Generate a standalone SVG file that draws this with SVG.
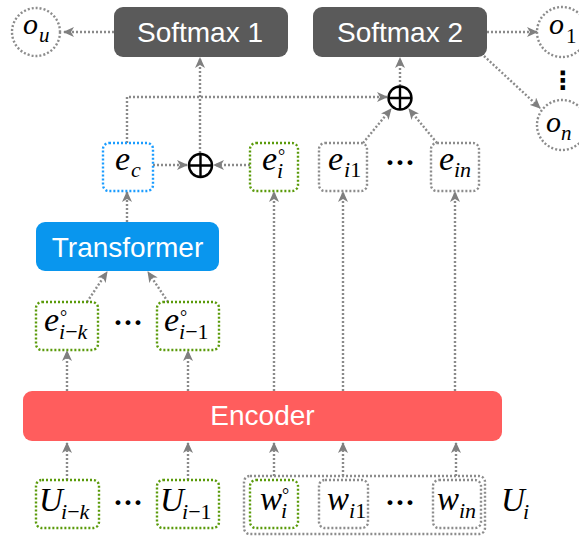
<svg xmlns="http://www.w3.org/2000/svg" width="579" height="536" viewBox="0 0 579 536">
<defs>
<marker id="ah" markerUnits="userSpaceOnUse" markerWidth="11" markerHeight="10" viewBox="0 0 11 10" refX="10" refY="5" orient="auto">
<path d="M0,0 L11,5 L0,10 L3,5 z" fill="#7f7f7f"/>
</marker>
<style>
.blk{rx:9px}
.lbl{font-family:"Liberation Sans",Arial,sans-serif;font-size:28px;fill:#fff;text-anchor:middle}
.m{font-family:"Liberation Serif","Times New Roman",serif;font-style:italic;font-size:34px;fill:#000}
.u{font-size:33px}
.s{font-size:22px}
.deg{font-style:normal;font-size:18px}
.dots{font-family:"Liberation Serif","Times New Roman",serif;font-size:30px;font-weight:bold;fill:#000;text-anchor:middle}
.box{fill:none;stroke-width:2.4;stroke-dasharray:2 2;rx:6px}
.g{stroke:#5a9a0a}
.gr{stroke:#8c8c8c}
.bl{stroke:#1a9cff}
.circ{fill:none;stroke:#8c8c8c;stroke-width:2.4;stroke-dasharray:2 2}
.c{fill:none;stroke:#8a8a8a;stroke-width:2.4;stroke-dasharray:2 2;marker-end:url(#ah)}
.op{fill:none;stroke:#000;stroke-width:2.4}
</style>
</defs>

<g id="connectors">
<path class="c" d="M114,32 L64,32"/>
<path class="c" d="M487,32 L537,32"/>
<path class="c" d="M484,56 L540,108"/>
<path class="c" d="M200,153 L200,58"/>
<path class="c" d="M400,86 L400,58"/>
<path class="c" d="M127,143 L127,97 L387,97"/>
<path class="c" d="M153,165 L187,165"/>
<path class="c" d="M250,165 L214,165"/>
<path class="c" d="M363,143 L391,109"/>
<path class="c" d="M437,143 L409,109"/>
<path class="c" d="M127,222 L127,192"/>
<path class="c" d="M87,302 L107,272"/>
<path class="c" d="M168,302 L148,272"/>
<path class="c" d="M67,391 L67,351"/>
<path class="c" d="M188,391 L188,351"/>
<path class="c" d="M274,391 L274,192"/>
<path class="c" d="M343,391 L343,192"/>
<path class="c" d="M455,391 L455,192"/>
<path class="c" d="M67,480 L67,443"/>
<path class="c" d="M188,480 L188,443"/>
<path class="c" d="M274,476 L274,443"/>
<path class="c" d="M343,476 L343,443"/>
<path class="c" d="M456,476 L456,443"/>
</g>

<g id="softmax1">
<rect class="blk" x="114" y="7" width="174" height="50" fill="#5a5a5a"/>
<text class="lbl" x="200" y="42">Softmax 1</text>
</g>
<g id="softmax2">
<rect class="blk" x="313" y="7" width="174" height="50" fill="#5a5a5a"/>
<text class="lbl" x="400" y="42">Softmax 2</text>
</g>

<g id="ou">
<circle class="circ" cx="36" cy="32" r="24"/>
<text class="m"><tspan x="23" y="34" font-size="30px">o</tspan><tspan x="39" y="42" font-size="21px">u</tspan></text>
</g>
<g id="o1">
<circle class="circ" cx="562" cy="32" r="25"/>
<text class="m"><tspan x="549" y="34" font-size="30px">o</tspan><tspan x="566" y="43" font-size="21px" font-style="normal">1</tspan></text>
</g>
<g id="vdots">
<text x="563" y="89" font-family="DejaVu Sans,sans-serif" font-size="25" font-weight="bold" text-anchor="middle" fill="#000">⋮</text>
</g>
<g id="on">
<circle class="circ" cx="562" cy="125" r="25"/>
<text class="m"><tspan x="546" y="132" font-size="30px">o</tspan><tspan x="561" y="140" font-size="21px">n</tspan></text>
</g>

<g id="oplus1">
<circle class="op" cx="200.5" cy="165.5" r="11.5"/>
<path class="op" d="M189,165.5 H212 M200.5,154 V177"/>
</g>
<g id="oplus2">
<circle class="op" cx="400" cy="98" r="11.5"/>
<path class="op" d="M388.5,98 H411.5 M400,86.5 V109.5"/>
</g>

<g id="ec">
<rect class="box bl" x="103" y="143" width="50" height="48"/>
<text class="m"><tspan x="115" y="170">e</tspan><tspan class="s" x="131" y="177">c</tspan></text>
</g>
<g id="ei0">
<rect class="box g" x="250" y="143" width="48" height="48"/>
<text class="m"><tspan x="262" y="170">e</tspan><tspan class="s" x="277" y="178">i</tspan><tspan class="deg" x="278" y="162">°</tspan></text>
</g>
<g id="ei1">
<rect class="box gr" x="319" y="143" width="48" height="48"/>
<text class="m"><tspan x="328" y="170">e</tspan><tspan class="s" x="344" y="177">i<tspan font-style="normal">1</tspan></tspan></text>
</g>
<text class="dots" x="400" y="172">···</text>
<g id="ein">
<rect class="box gr" x="431" y="143" width="48" height="48"/>
<text class="m"><tspan x="439" y="170">e</tspan><tspan class="s" x="454" y="177">in</tspan></text>
</g>

<g id="transformer">
<rect class="blk" x="36" y="222" width="183" height="49" fill="#0996ee"/>
<text class="lbl" x="127.5" y="257">Transformer</text>
</g>

<g id="eik">
<rect class="box g" x="36" y="302" width="62" height="48"/>
<text class="m"><tspan x="44" y="331">e</tspan><tspan class="s" x="59" y="339">i<tspan font-style="normal">−</tspan>k</tspan><tspan class="deg" x="60" y="323">°</tspan></text>
</g>
<text class="dots" x="128" y="332">···</text>
<g id="ei_1">
<rect class="box g" x="157" y="302" width="62" height="48"/>
<text class="m"><tspan x="164" y="331">e</tspan><tspan class="s" x="179" y="339">i<tspan font-style="normal">−1</tspan></tspan><tspan class="deg" x="180" y="323">°</tspan></text>
</g>

<g id="encoder">
<rect class="blk" x="23" y="391" width="479" height="50" fill="#ff5d5d"/>
<text class="lbl" x="262.5" y="425">Encoder</text>
</g>

<g id="uik">
<rect class="box g" x="36" y="480" width="63" height="48"/>
<text class="m u"><tspan x="39" y="511">U</tspan><tspan class="s" x="61" y="519">i<tspan font-style="normal">−</tspan>k</tspan></text>
</g>
<text class="dots" x="128" y="512">···</text>
<g id="ui_1">
<rect class="box g" x="157" y="480" width="62" height="48"/>
<text class="m u"><tspan x="160" y="511">U</tspan><tspan class="s" x="182" y="519">i<tspan font-style="normal">−1</tspan></tspan></text>
</g>

<g id="ui">
<rect class="box gr" x="244" y="476" width="241" height="58"/>
<text class="m u"><tspan x="501" y="511">U</tspan><tspan class="s" x="523" y="519">i</tspan></text>
</g>
<g id="wi0">
<rect class="box g" x="250" y="480" width="48" height="48"/>
<text class="m u"><tspan x="260" y="510">w</tspan><tspan class="s" x="281" y="518">i</tspan><tspan class="deg" x="282" y="501">°</tspan></text>
</g>
<g id="wi1">
<rect class="box gr" x="319" y="480" width="49" height="48"/>
<text class="m u"><tspan x="327" y="510">w</tspan><tspan class="s" x="349" y="518">i<tspan font-style="normal">1</tspan></tspan></text>
</g>
<text class="dots" x="400" y="512">···</text>
<g id="win">
<rect class="box gr" x="433" y="480" width="48" height="48"/>
<text class="m u"><tspan x="437" y="510">w</tspan><tspan class="s" x="459" y="518">in</tspan></text>
</g>
</svg>
